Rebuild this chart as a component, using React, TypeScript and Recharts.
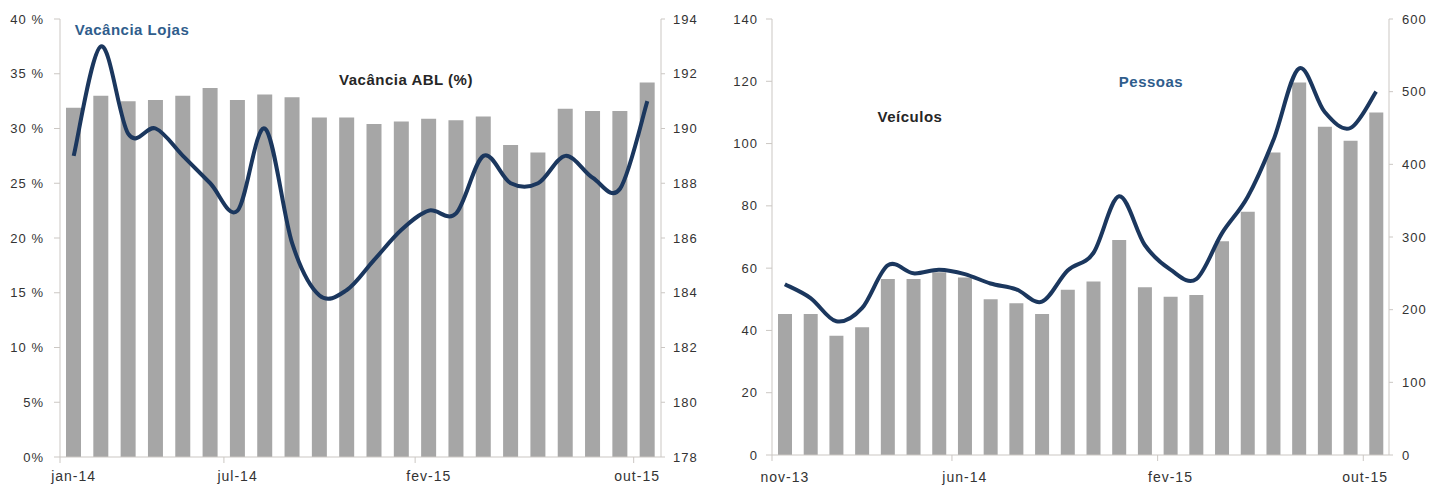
import { ComposedChart, Bar, Line, XAxis, YAxis } from 'recharts';

// Vacância (jan-14 .. out-15)
const leftMonths = [
  'jan-14', 'fev-14', 'mar-14', 'abr-14', 'mai-14', 'jun-14', 'jul-14', 'ago-14', 'set-14', 'out-14', 'nov-14',
  'dez-14', 'jan-15', 'fev-15', 'mar-15', 'abr-15', 'mai-15', 'jun-15', 'jul-15', 'ago-15', 'set-15', 'out-15',
];
const ablPct = [
  31.9, 33.0, 32.5, 32.6, 33.0, 33.7, 32.6, 33.1, 32.85, 31.0, 31.0,
  30.4, 30.65, 30.9, 30.75, 31.1, 28.5, 27.8, 31.8, 31.6, 31.6, 34.2,
];
const lojasVagas = [
  189, 193, 189.8, 190, 189, 188, 187, 190, 185.8, 183.9, 184.1,
  185.2, 186.3, 187, 186.9, 189, 188, 188, 189, 188.2, 187.8, 191,
];
const leftShown = ['jan-14', 'jul-14', 'fev-15', 'out-15'];
const pctTicks = [0, 5, 10, 15, 20, 25, 30, 35, 40];
const lojasTicks = [178, 180, 182, 184, 186, 188, 190, 192, 194];

// Fluxo (nov-13 .. out-15)
const rightMonths = [
  'nov-13', 'dez-13', 'jan-14', 'fev-14', 'mar-14', 'abr-14', 'mai-14', 'jun-14', 'jul-14', 'ago-14', 'set-14', 'out-14',
  'nov-14', 'dez-14', 'jan-15', 'fev-15', 'mar-15', 'abr-15', 'mai-15', 'jun-15', 'jul-15', 'ago-15', 'set-15', 'out-15',
];
const veiculos = [
  45.3, 45.3, 38.3, 41.0, 56.5, 56.5, 58.7, 57.0, 50.0, 48.7, 45.3, 53.1,
  55.7, 69.0, 53.9, 50.8, 51.4, 68.6, 78.1, 97.1, 119.6, 105.4, 100.9, 110.0,
];
const pessoas = [
  235, 216, 184, 202, 261, 250, 255, 249, 236, 228, 211, 254,
  278, 356, 289, 255, 242, 305, 355, 433, 532, 472, 450, 500,
];
const rightShown = ['nov-13', 'jun-14', 'fev-15', 'out-15'];
const veiculosTicks = [0, 20, 40, 60, 80, 100, 120, 140];
const pessoasTicks = [0, 100, 200, 300, 400, 500, 600];

const leftData = leftMonths.map((m, i) => ({ m, abl: ablPct[i], lojas: lojasVagas[i] }));
const rightData = rightMonths.map((m, i) => ({ m, veiculos: veiculos[i], pessoas: pessoas[i] }));

const BAR = '#a6a6a6';
const LINE = '#1b375e';
const AXIS = '#cbc7c3';
const TEXT = '#333333';
const BLUE = '#2f5d8c';
const FONT = '"Liberation Sans", Arial, Helvetica, sans-serif';

// smooth line through the points, like the spreadsheet "smoothed line"
function catmullRom(context: any) {
  let pts: number[][] = [];
  return {
    areaStart() {},
    areaEnd() {},
    lineStart() { pts = []; },
    lineEnd() {
      if (!pts.length) return;
      context.moveTo(pts[0][0], pts[0][1]);
      for (let i = 0; i < pts.length - 1; i++) {
        const p0 = pts[Math.max(i - 1, 0)];
        const p1 = pts[i];
        const p2 = pts[i + 1];
        const p3 = pts[Math.min(i + 2, pts.length - 1)];
        context.bezierCurveTo(
          p1[0] + (p2[0] - p0[0]) / 6, p1[1] + (p2[1] - p0[1]) / 6,
          p2[0] - (p3[0] - p1[0]) / 6, p2[1] - (p3[1] - p1[1]) / 6,
          p2[0], p2[1],
        );
      }
    },
    point(x: number, y: number) { pts.push([+x, +y]); },
  };
}

const MonthTick = ({ x, y, payload, shown, bw, last, dy }: any) => {
  if (!shown.includes(payload.value)) return null;
  const isLast = payload.value === last;
  return (
    <g>
      <line x1={x - bw / 2} x2={x - bw / 2} y1={y} y2={y + 6} stroke={AXIS} />
      <text
        x={isLast ? x + bw / 2 - 1 : x}
        y={y + dy}
        textAnchor={isLast ? 'end' : 'middle'}
        fill={TEXT}
        fontSize={14}
      >
        {payload.value}
      </text>
    </g>
  );
};

const pctLabel = (v: number) => (v >= 10 ? `${v} %` : `${v}%`);

const Label = ({ x, y, color, children }: any) => (
  <div
    style={{
      position: 'absolute', left: x, top: y, transform: 'translate(-50%, -50%)',
      color, fontWeight: 'bold', fontSize: 15, whiteSpace: 'nowrap', letterSpacing: 0.5,
    }}
  >
    {children}
  </div>
);

export default function App() {
  const tick = { fill: TEXT, fontSize: 13 };
  return (
    <div
      style={{
        position: 'absolute', left: 0, top: 0, width: 1429, height: 486, background: '#fff',
        fontFamily: FONT, letterSpacing: 1,
      }}
    >
      <div style={{ position: 'absolute', left: 0, top: 0 }}>
        <ComposedChart width={715} height={486} data={leftData} margin={{ top: 19, right: 10, bottom: 4, left: 10 }} barSize={15}>
          <XAxis
            dataKey="m"
            interval={0}
            tickLine={false}
            tickSize={0}
            tickMargin={0}
            height={25}
            axisLine={{ stroke: AXIS }}
            tick={<MonthTick shown={leftShown} bw={601 / 22} last="out-15" dy={24} />}
          />
          <YAxis
            yAxisId="l"
            domain={[0, 40]}
            ticks={pctTicks}
            width={50}
            tickSize={6}
            tickMargin={10}
            axisLine={{ stroke: AXIS }}
            tickLine={{ stroke: AXIS }}
            tick={tick}
            tickFormatter={pctLabel}
          />
          <YAxis
            yAxisId="r"
            orientation="right"
            domain={[178, 194]}
            ticks={lojasTicks}
            width={44}
            tickSize={4}
            tickMargin={8}
            axisLine={{ stroke: AXIS }}
            tickLine={{ stroke: AXIS }}
            tick={tick}
          />
          <Bar yAxisId="l" dataKey="abl" fill={BAR} isAnimationActive={false} />
          <Line
            yAxisId="r"
            dataKey="lojas"
            type={catmullRom as any}
            stroke={LINE}
            strokeWidth={4}
            dot={false}
            activeDot={false}
            isAnimationActive={false}
          />
        </ComposedChart>
      </div>

      <div style={{ position: 'absolute', left: 715, top: 0 }}>
        <ComposedChart width={714} height={486} data={rightData} margin={{ top: 19, right: 10, bottom: 4, left: 10 }} barSize={14}>
          <XAxis
            dataKey="m"
            interval={0}
            tickLine={false}
            tickSize={0}
            tickMargin={0}
            height={27}
            axisLine={{ stroke: AXIS }}
            tick={<MonthTick shown={rightShown} bw={617 / 24} last="out-15" dy={27} />}
          />
          <YAxis
            yAxisId="l"
            domain={[0, 140]}
            ticks={veiculosTicks}
            width={47}
            tickSize={6}
            tickMargin={8}
            axisLine={{ stroke: AXIS }}
            tickLine={{ stroke: AXIS }}
            tick={tick}
          />
          <YAxis
            yAxisId="r"
            orientation="right"
            domain={[0, 600]}
            ticks={pessoasTicks}
            width={30}
            tickSize={4}
            tickMargin={9}
            axisLine={{ stroke: AXIS }}
            tickLine={{ stroke: AXIS }}
            tick={tick}
          />
          <Bar yAxisId="l" dataKey="veiculos" fill={BAR} isAnimationActive={false} />
          <Line
            yAxisId="r"
            dataKey="pessoas"
            type={catmullRom as any}
            stroke={LINE}
            strokeWidth={4}
            dot={false}
            activeDot={false}
            isAnimationActive={false}
          />
        </ComposedChart>
      </div>

      <Label x={132} y={29} color={BLUE}>Vacância Lojas</Label>
      <Label x={406} y={79} color="#262626">Vacância ABL (%)</Label>
      <Label x={910} y={116} color="#262626">Veículos</Label>
      <Label x={1151} y={81} color={BLUE}>Pessoas</Label>
    </div>
  );
}
